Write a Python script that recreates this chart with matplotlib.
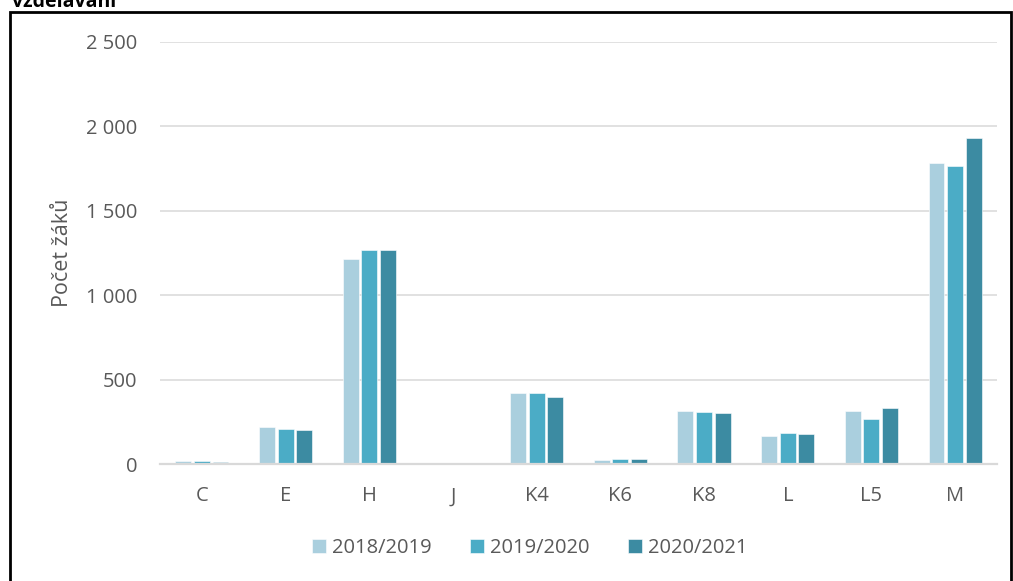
import numpy as np
import matplotlib.pyplot as plt
from matplotlib.patches import Rectangle
from matplotlib.ticker import FuncFormatter

plt.rcParams['font.family'] = ['Open Sans', 'DejaVu Sans']

categories = ['C', 'E', 'H', 'J', 'K4', 'K6', 'K8', 'L', 'L5', 'M']
years = ['2018/2019', '2019/2020', '2020/2021']
v_2018 = [20, 219, 1213, 4, 418, 25, 316, 164, 314, 1781]
v_2019 = [18, 207, 1266, 1, 420, 29, 310, 184, 267, 1765]
v_2020 = [12, 201, 1268, 5, 397, 29, 304, 178, 332, 1931]
colors = ['#AACFDE', '#4BACC6', '#3C8BA2']

text_col = '#595959'
grid_col = '#D9D9D9'

fig = plt.figure(figsize=(10.13, 5.81), dpi=100)
ax = fig.add_axes([160 / 1013, 1 - 464 / 581, 837 / 1013, 422 / 581])

x = np.arange(len(categories))
step = 0.223
for i, (vals, lab) in enumerate(zip([v_2018, v_2019, v_2020], years)):
    ax.bar(x + (i - 1) * step, vals, width=0.19, color=colors[i],
           edgecolor='white', linewidth=0.4, label=lab, zorder=3)

ax.set_xlim(-0.5, len(categories) - 0.5)
ax.set_ylim(0, 2500)
ax.set_yticks(range(0, 2501, 500))
ax.yaxis.set_major_formatter(FuncFormatter(lambda v, p: f'{int(v):,}'.replace(',', ' ')))
ax.set_xticks(x)
ax.set_xticklabels(categories)

ax.grid(axis='y', color=grid_col, linewidth=1.1, zorder=0)
for s in ['top', 'right', 'left']:
    ax.spines[s].set_visible(False)
ax.spines['bottom'].set_color(grid_col)
ax.spines['bottom'].set_linewidth(1.6)
ax.spines['bottom'].set_zorder(4)

ax.tick_params(axis='both', length=0, labelsize=14.5, colors=text_col)
ax.tick_params(axis='y', pad=16.5)
ax.tick_params(axis='x', pad=16)

ax.set_ylabel('Počet žáků', fontsize=15.5, color=text_col, labelpad=9)

ax.legend(loc='center', bbox_to_anchor=(530 / 1013, 1 - 548 / 581),
          bbox_transform=fig.transFigure, ncol=3, frameon=False,
          fontsize=14.5, labelcolor=text_col, handlelength=0.7,
          handleheight=0.7, handletextpad=0.3, columnspacing=1.9)

# outer frame and cut-off title
fig.patches.append(Rectangle((10 / 1013, -0.05), 1001 / 1013, 1 - 12 / 581 + 0.05,
                             transform=fig.transFigure, fill=False,
                             edgecolor='black', linewidth=2))
fig.text(12 / 1013, 1 - 7 / 581, 'vzdělávání', fontsize=14, weight='bold',
         va='baseline', ha='left', color='black')

fig.savefig('out.png', dpi=100)
